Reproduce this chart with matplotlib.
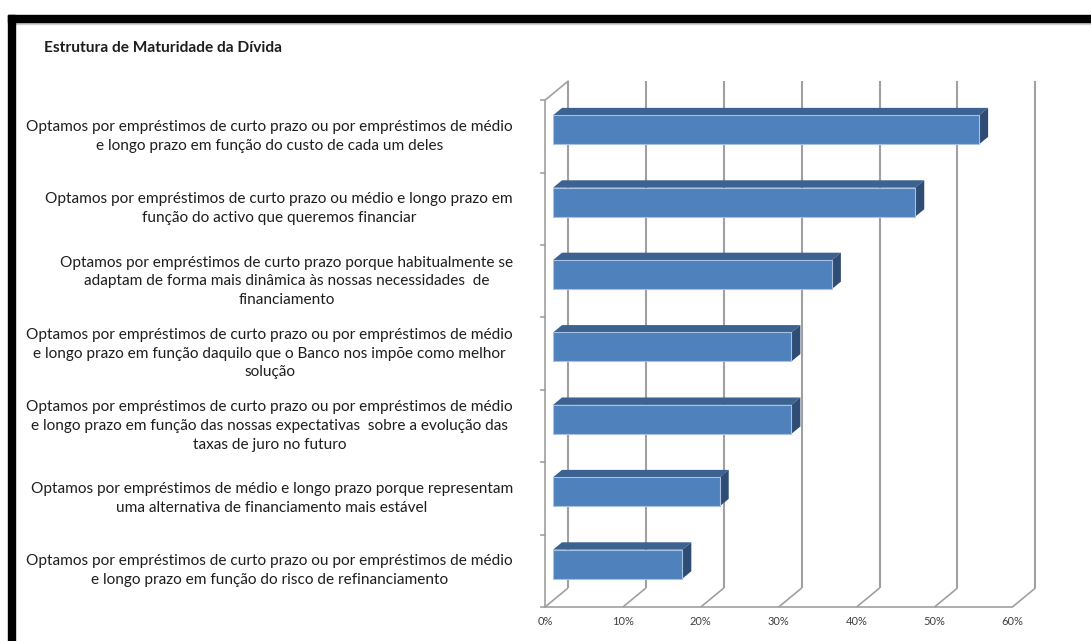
import matplotlib
matplotlib.use("Agg")
import matplotlib.pyplot as plt
from matplotlib.patches import Rectangle

plt.rcParams['font.family'] = ['Lato', 'DejaVu Sans']

title = "Estrutura de Maturidade da Dívida"

categories = [
    "Optamos por empréstimos de curto prazo ou por empréstimos de médio\ne longo prazo em função do custo de cada um deles",
    "Optamos por empréstimos de curto prazo ou médio e longo prazo em\nfunção do activo que queremos financiar",
    "Optamos por empréstimos de curto prazo porque habitualmente se\nadaptam de forma mais dinâmica às nossas necessidades  de\nfinanciamento",
    "Optamos por empréstimos de curto prazo ou por empréstimos de médio\ne longo prazo em função daquilo que o Banco nos impõe como melhor\nsolução",
    "Optamos por empréstimos de curto prazo ou por empréstimos de médio\ne longo prazo em função das nossas expectativas  sobre a evolução das\ntaxas de juro no futuro",
    "Optamos por empréstimos de médio e longo prazo porque representam\numa alternativa de financiamento mais estável",
    "Optamos por empréstimos de curto prazo ou por empréstimos de médio\ne longo prazo em função do risco de refinanciamento",
]
values = [54.7, 46.5, 35.8, 30.6, 30.6, 21.4, 16.6]
x_ticks = [0, 10, 20, 30, 40, 50, 60]
x_tick_labels = ["0%", "10%", "20%", "30%", "40%", "50%", "60%"]

# oblique projection of the depth axis, in data units
DEPTH_X = 2.95   # percent per unit depth
DEPTH_Y = 0.262  # category rows per unit depth
BAR_D0, BAR_D1 = 0.35, 0.74
BAR_H = 0.40

FRONT = '#4f81bd'
TOP = '#3c6291'
SIDE = '#2f4c74'
GRID = '#a0a0a0'
TEXT = '#1e1e1e'


def proj(v, c, d):
    return v + d * DEPTH_X, c + d * DEPTH_Y


W, H = 1091, 641
fig = plt.figure(figsize=(W / 100, H / 100), dpi=100)
fig.patch.set_facecolor('white')

# axes laid out so that 1% = 7.79 px and one category row = 72.4 px
px_per_pct, px_per_cat = 7.79, 72.4
x0_px, y0_px = 545, 607
xlim = (-2.0, 66.0)
ylim = (-0.3, 7.5)
left = x0_px + xlim[0] * px_per_pct
right = x0_px + xlim[1] * px_per_pct
bottom = y0_px - ylim[0] * px_per_cat
top = y0_px - ylim[1] * px_per_cat
ax = fig.add_axes([left / W, (H - bottom) / H, (right - left) / W, (bottom - top) / H])
ax.set_xlim(*xlim)
ax.set_ylim(*ylim)
ax.axis('off')

n = len(categories)

# floor edges, back-wall gridlines
for t in x_ticks:
    (xa, ya), (xb, yb) = proj(t, 0, 0), proj(t, 0, 1)
    ax.plot([xa, xb], [ya, yb], color=GRID, lw=1.2, zorder=1, solid_capstyle='butt')
    (xc, yc) = proj(t, n, 1)
    ax.plot([xb, xc], [yb, yc], color=GRID, lw=1.5, zorder=1, solid_capstyle='butt')
fx0, fy0 = proj(x_ticks[0], 0, 0)
fx1, fy1 = proj(x_ticks[-1], 0, 0)
ax.plot([fx0, fx1], [fy0, fy1], color=GRID, lw=1.2, zorder=1)

# left wall outline and category ticks
wx0, wy0 = proj(0, 0, 0)
wx1, wy1 = proj(0, n, 0)
wx2, wy2 = proj(0, n, 1)
ax.plot([wx0, wx1, wx2], [wy0, wy1, wy2], color=GRID, lw=1.2, zorder=1)
for c in range(n + 1):
    ax.plot([-0.5, 0], [c, c], color=GRID, lw=1.2, zorder=1)

# 3-D bars: front faces via barh, then top and side faces
centers = [n - 0.5 - i for i in range(n)]
fcx, fcy = proj(0, 0, BAR_D0)
ax.barh([c + fcy for c in centers], values, height=BAR_H, left=fcx,
        color=FRONT, edgecolor='#a9c1e0', linewidth=0.8, zorder=3)
for c, v in zip(centers, values):
    yt, yb = c + BAR_H / 2, c - BAR_H / 2
    top_face = [proj(0, yt, BAR_D0), proj(v, yt, BAR_D0), proj(v, yt, BAR_D1), proj(0, yt, BAR_D1)]
    side_face = [proj(v, yb, BAR_D0), proj(v, yt, BAR_D0), proj(v, yt, BAR_D1), proj(v, yb, BAR_D1)]
    ax.fill(*zip(*top_face), color=TOP, zorder=2, lw=0)
    ax.fill(*zip(*side_face), color=SIDE, zorder=2, lw=0)

# category labels
label_x = (513 - x0_px) / px_per_pct
for c, lab in zip(centers, categories):
    ax.text(label_x, c, lab, ha='right', va='center', multialignment='center',
            fontsize=11.1, color=TEXT, linespacing=1.42, clip_on=False)

# value axis labels
for t, lab in zip(x_ticks, x_tick_labels):
    ax.text(t, -0.2, lab, ha='center', va='center', fontsize=8, color='#404040')

# title
fig.text(44 / W, 1 - 48 / H, title, ha='left', va='center', fontsize=11.2,
         fontweight='bold', color=TEXT)

# black frame along top and left edges
fig.patches.append(Rectangle((8 / W, 1 - 22 / H), 1 - 8 / W, 7 / H, transform=fig.transFigure,
                             color='black', zorder=10))
fig.patches.append(Rectangle((8 / W, 0), 7 / W, 1 - 15 / H, transform=fig.transFigure,
                             color='black', zorder=10))
fig.patches.append(Rectangle((15 / W, 1 - 23.5 / H), 1 - 15 / W, 1.2 / H, transform=fig.transFigure,
                             color='#d0d0d0', zorder=9))

fig.savefig('out.png', dpi=100)
